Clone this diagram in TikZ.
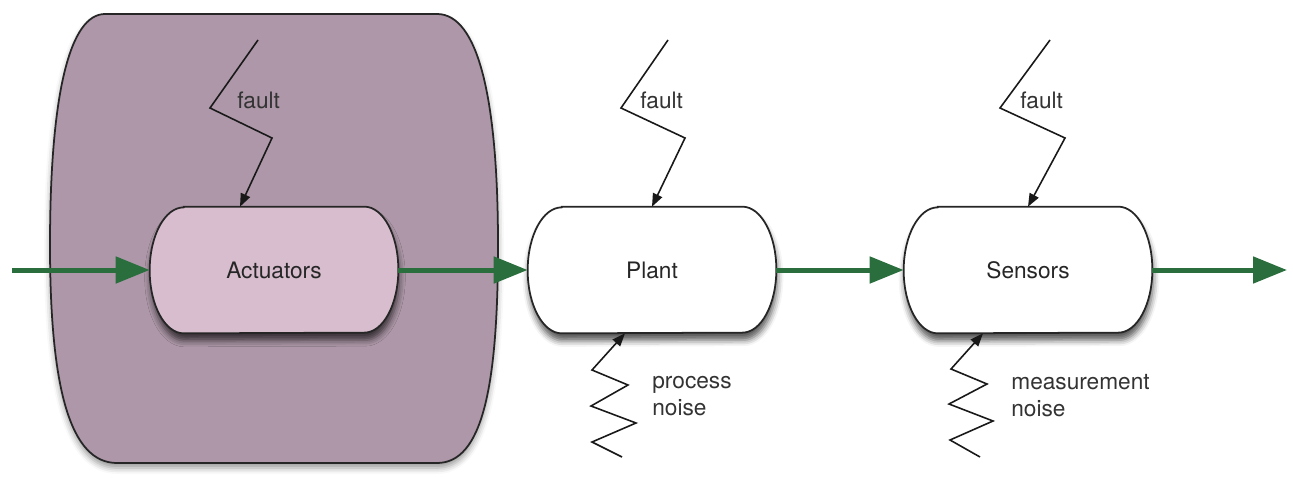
\documentclass[tikz,border=0pt]{standalone}
\usepackage{fontspec}
\setmainfont{TeX Gyre Heros}
\usetikzlibrary{arrows.meta, positioning, backgrounds, shadows.blur}
\definecolor{housing}{HTML}{AD97A8}
\definecolor{actfill}{HTML}{D7BDCE}
\definecolor{flowgreen}{HTML}{2B6E3E}
\definecolor{labelgray}{HTML}{333333}
\newcommand\blockfont{\fontsize{12.9}{15.4}\selectfont}
% capsule outline behind a block node: flat top/bottom, elliptic sides
\newcommand\capsule[2]{%
  \path[draw=black!85, line width=1pt, fill=#2,
        blur shadow={shadow xshift=0.02cm, shadow yshift=-0.15cm, shadow blur radius=0.12cm, shadow opacity=65}]
    ([xshift=0.68cm]#1.north west) -- ([xshift=-0.68cm]#1.north east)
    arc[start angle=90, end angle=-90, x radius=0.68cm, y radius=1.26cm]
    -- ([xshift=0.68cm]#1.south west)
    arc[start angle=270, end angle=90, x radius=0.68cm, y radius=1.26cm] -- cycle;}

\begin{document}
\begin{tikzpicture}[x=0.02cm, y=0.02cm,
    block/.style={rectangle, minimum width=4.96cm, minimum height=2.52cm,
                  align=center, font=\blockfont, text=black!85},
    flow/.style={-{Triangle[length=0.68cm, width=0.52cm]}, line width=0.1cm, color=flowgreen},
    hit/.style={-{Triangle[length=0.26cm, width=0.2cm]}, line width=0.9pt, color=black!90},
    tag/.style={font=\blockfont, color=labelgray, align=left, anchor=west, inner sep=0pt}
]
\useasboundingbox (0,0) rectangle (1293,488);

\node[block] (act)   at (274,218)  {Actuators};
\node[block] (plant) at (652,218)  {Plant};
\node[block] (sens)  at (1028,218) {Sensors};

\begin{scope}[on background layer]
  % actuator housing
  \path[draw=black!85, line width=1pt, fill=housing,
        blur shadow={shadow xshift=0pt, shadow yshift=-0.1cm, shadow blur radius=0.12cm, shadow opacity=40}]
    (105,474) -- (437,474)
    .. controls (478,474) and (498,390) .. (498,243)
    .. controls (498,100) and (482,25) .. (437,25)
    -- (117,25)
    .. controls (70,25) and (50,100) .. (50,243)
    .. controls (50,395) and (70,474) .. (105,474) -- cycle;
  \capsule{act}{actfill}
  \capsule{plant}{white}
  \capsule{sens}{white}
\end{scope}

% signal flow
\coordinate (in)  at (12,218);
\coordinate (out) at (1287,218);
\draw[flow] (in)    -- (act.west);
\draw[flow] (act)   -- (plant);
\draw[flow] (plant) -- (sens);
\draw[flow] (sens)  -- (out);

% faults
\coordinate (fa) at (258,448);
\coordinate (fp) at (668,448);
\coordinate (fs) at (1050,448);
\draw[hit] (fa) -- ++(-48,-68) -- ++(62,-30) -- ([xshift=-0.68cm]act.north);
\draw[hit] (fp) -- ++(-47,-68) -- ++(64,-30) -- (plant.north);
\draw[hit] (fs) -- ++(-50,-68) -- ++(65,-30) -- (sens.north);
\node[tag] (fa-l) at (237,388)  {fault};
\node[tag] (fp-l) at (640,388)  {fault};
\node[tag] (fs-l) at (1020,388) {fault};

% noise
\coordinate (np) at (622,31);
\coordinate (ns) at (980,31);
\draw[hit] (np) -- (592,46) -- (636,65) -- (591,82) -- (628,103) -- (592,118) -- ([xshift=-0.54cm]plant.south);
\draw[hit] (ns) -- (950,48) -- (993,67) -- (949,84) -- (987,104) -- (951,119) -- ([xshift=-0.9cm]sens.south);
\node[tag] (np-l) at (652,92)  {process\\noise};
\node[tag] (ns-l) at (1011,92) {measurement\\noise};
\end{tikzpicture}
\end{document}
